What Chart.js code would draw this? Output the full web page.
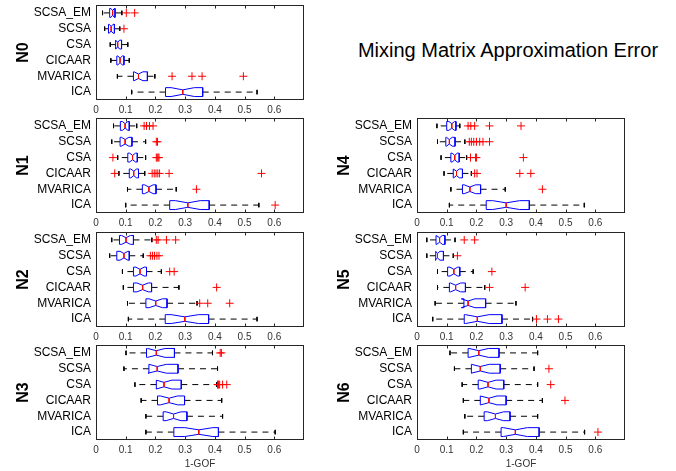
<!DOCTYPE html>
<html>
<head>
<meta charset="utf-8">
<script src="https://cdn.jsdelivr.net/npm/chart.js@4.4.1/dist/chart.umd.min.js"></script>
<style>
  html, body { margin: 0; padding: 0; background: #fff; }
  #fig { position: relative; width: 676px; height: 471px; overflow: hidden; background: #fff; }
  .panel { position: absolute; }
  #title {
    position: absolute; left: 508px; top: 50px; transform: translate(-50%, -50%);
    font: 20px "Liberation Sans", Arial, Helvetica, sans-serif; white-space: nowrap; color: #000;
  }
</style>
</head>
<body>
<div id="fig">
  <div id="title">Mixing Matrix Approximation Error</div>
</div>
<script>
// categories and panels
const methods = ["SCSA_EM", "SCSA", "CSA", "CICAAR", "MVARICA", "ICA"];
const panels = ["N0", "N1", "N2", "N3", "N4", "N5", "N6"];
const xTickValues = [0, 0.1, 0.2, 0.3, 0.4, 0.5, 0.6];
const xMax = 0.7;
const sampleSize = 25; // used for the notch width, as matlab boxplot does

// box statistics, one row per panel, one value per method
const whiskLo = [
  [0.022, 0.029, 0.048, 0.050, 0.072, 0.120],
  [0.059, 0.053, 0.073, 0.077, 0.106, 0.100],
  [0.053, 0.046, 0.089, 0.092, 0.106, 0.109],
  [0.101, 0.094, 0.131, 0.152, 0.168, 0.168],
  [0.067, 0.069, 0.081, 0.091, 0.114, 0.109],
  [0.033, 0.033, 0.069, 0.069, 0.061, 0.053],
  [0.111, 0.126, 0.152, 0.156, 0.161, 0.156]
];
const q1 = [
  [0.046, 0.042, 0.066, 0.070, 0.126, 0.234],
  [0.082, 0.081, 0.107, 0.112, 0.156, 0.248],
  [0.079, 0.070, 0.126, 0.126, 0.168, 0.233],
  [0.170, 0.178, 0.203, 0.207, 0.226, 0.262],
  [0.100, 0.097, 0.114, 0.122, 0.153, 0.233],
  [0.064, 0.063, 0.103, 0.109, 0.158, 0.159],
  [0.172, 0.183, 0.206, 0.213, 0.226, 0.283]
];
const median = [
  [0.056, 0.051, 0.073, 0.081, 0.143, 0.292],
  [0.098, 0.098, 0.123, 0.127, 0.178, 0.309],
  [0.101, 0.094, 0.148, 0.157, 0.201, 0.299],
  [0.203, 0.206, 0.229, 0.246, 0.261, 0.346],
  [0.117, 0.109, 0.127, 0.133, 0.178, 0.300],
  [0.076, 0.069, 0.124, 0.130, 0.172, 0.203],
  [0.208, 0.213, 0.239, 0.242, 0.264, 0.331]
];
const q3 = [
  [0.064, 0.062, 0.086, 0.094, 0.173, 0.359],
  [0.112, 0.121, 0.139, 0.143, 0.202, 0.381],
  [0.126, 0.112, 0.170, 0.187, 0.239, 0.379],
  [0.264, 0.276, 0.287, 0.298, 0.306, 0.412],
  [0.131, 0.128, 0.142, 0.153, 0.214, 0.378],
  [0.094, 0.089, 0.144, 0.163, 0.231, 0.286],
  [0.276, 0.280, 0.292, 0.300, 0.313, 0.411]
];
const whiskHi = [
  [0.087, 0.080, 0.107, 0.112, 0.198, 0.542],
  [0.137, 0.167, 0.167, 0.164, 0.270, 0.548],
  [0.188, 0.159, 0.220, 0.279, 0.340, 0.542],
  [0.392, 0.409, 0.406, 0.423, 0.426, 0.603],
  [0.144, 0.161, 0.167, 0.183, 0.297, 0.563],
  [0.128, 0.122, 0.189, 0.228, 0.333, 0.389],
  [0.406, 0.394, 0.406, 0.422, 0.406, 0.564]
];
const outliers = [
  [[0.102, 0.130], [0.094], [], [], [0.256, 0.323, 0.357, 0.496], []],
  [[0.162, 0.170, 0.180, 0.192], [0.203, 0.207], [0.057, 0.203, 0.206, 0.209, 0.212],
   [0.063, 0.189, 0.196, 0.202, 0.208, 0.214, 0.246, 0.557], [0.338], [0.603]],
  [[0.203, 0.209, 0.237, 0.268], [0.183, 0.190, 0.197, 0.205, 0.212], [0.248, 0.263], [0.406],
   [0.349, 0.376, 0.450], []],
  [[0.418, 0.422], [], [0.409, 0.412, 0.416, 0.426, 0.440], [], [], []],
  [[0.172, 0.181, 0.194, 0.244, 0.350], [0.176, 0.183, 0.191, 0.200, 0.211, 0.222, 0.244],
   [0.180, 0.197, 0.200, 0.358], [0.194, 0.202, 0.346, 0.383], [0.422], []],
  [[0.159, 0.194], [0.136], [0.252], [0.244, 0.364], [], [0.402, 0.439, 0.476]],
  [[], [0.444], [0.450], [0.498], [], [0.609]]
];

// layout (pixels)
const colLeft = [96, 417];
const rowTop = [4, 117, 231, 344];
const plotW = 209, plotH = 96, axisW = 96, padTop = 4, padRight = 4;
const boxH = 0.28, notchDepth = 0.5, capH = 0.14;

Chart.defaults.font.family = '"Liberation Sans", Arial, Helvetica, sans-serif';

const GAP = { x: null, y: null };

function boxOutline(p) {
  const pts = [];
  methods.forEach((m, i) => {
    const y = i + 1, a = q1[p][i], b = q3[p][i], md = median[p][i];
    const n = 1.57 * (b - a) / Math.sqrt(sampleSize);
    pts.push(
      { x: a, y: y - boxH }, { x: md - n, y: y - boxH }, { x: md, y: y - boxH * notchDepth },
      { x: md + n, y: y - boxH }, { x: b, y: y - boxH }, { x: b, y: y + boxH },
      { x: md + n, y: y + boxH }, { x: md, y: y + boxH * notchDepth }, { x: md - n, y: y + boxH },
      { x: a, y: y + boxH }, { x: a, y: y - boxH }, GAP
    );
  });
  return pts;
}

function medianLines(p) {
  const pts = [];
  methods.forEach((m, i) => {
    const y = i + 1, md = median[p][i];
    pts.push({ x: md, y: y - boxH * notchDepth }, { x: md, y: y + boxH * notchDepth }, GAP);
  });
  return pts;
}

function whiskerLines(p) {
  const pts = [];
  methods.forEach((m, i) => {
    const y = i + 1;
    pts.push({ x: q1[p][i], y }, { x: whiskLo[p][i], y }, GAP);
    pts.push({ x: q3[p][i], y }, { x: whiskHi[p][i], y }, GAP);
  });
  return pts;
}

function capLines(p) {
  const pts = [];
  methods.forEach((m, i) => {
    const y = i + 1;
    [whiskLo[p][i], whiskHi[p][i]].forEach(v => {
      pts.push({ x: v, y: y - capH }, { x: v, y: y + capH }, GAP);
    });
  });
  return pts;
}

function outlierPoints(p) {
  const pts = [];
  methods.forEach((m, i) => {
    outliers[p][i].forEach(v => pts.push({ x: v, y: i + 1 }));
  });
  return pts;
}

// full box round the axes plus inward x ticks at top and bottom
const framePlugin = {
  id: "frame",
  afterDatasetsDraw(chart) {
    const { ctx, chartArea: a, scales: { x } } = chart;
    const L = Math.round(a.left) + 0.5, R = Math.round(a.right) - 0.5;
    const T = Math.round(a.top) + 0.5, B = Math.round(a.bottom) - 0.5;
    ctx.save();
    ctx.strokeStyle = "#262626";
    ctx.lineWidth = 1;
    ctx.strokeRect(L, T, R - L, B - T);
    ctx.beginPath();
    x.ticks.forEach(t => {
      const px = Math.round(x.getPixelForValue(t.value)) + 0.5;
      if (px <= L + 1 || px >= R - 1) return;
      ctx.moveTo(px, T); ctx.lineTo(px, T + 3);
      ctx.moveTo(px, B); ctx.lineTo(px, B - 3);
    });
    ctx.stroke();
    ctx.restore();
  }
};

const fig = document.getElementById("fig");

panels.forEach((name, p) => {
  const col = p < 4 ? 0 : 1;
  const row = p < 4 ? p : p - 3;
  const last = row === 3;
  const left = colLeft[col] - axisW;
  const top = rowTop[row] - padTop;
  const w = axisW + plotW + padRight;
  const h = last ? 471 - top : padTop + plotH + 18;

  const cv = document.createElement("canvas");
  cv.className = "panel";
  cv.width = w;
  cv.height = h;
  cv.style.left = left + "px";
  cv.style.top = top + "px";
  fig.appendChild(cv);

  new Chart(cv, {
    type: "scatter",
    data: {
      datasets: [
        { data: outlierPoints(p), showLine: false, pointStyle: "cross", pointRadius: 4,
          borderColor: "#ff0000", backgroundColor: "#ff0000", borderWidth: 1 },
        { data: medianLines(p), showLine: true, borderColor: "#ff0000", borderWidth: 1, pointRadius: 0 },
        { data: boxOutline(p), showLine: true, borderColor: "#0000ff", borderWidth: 1, pointRadius: 0 },
        { data: capLines(p), showLine: true, borderColor: "#000000", borderWidth: 1, pointRadius: 0 },
        { data: whiskerLines(p), showLine: true, borderColor: "#000000", borderWidth: 1, pointRadius: 0,
          borderDash: [6, 5] }
      ]
    },
    options: {
      responsive: false,
      animation: false,
      events: [],
      layout: { padding: { left: 0, top: padTop, right: padRight, bottom: 0 } },
      plugins: { legend: { display: false }, tooltip: { enabled: false } },
      scales: {
        x: {
          type: "linear", min: 0, max: xMax,
          grid: { display: false, drawTicks: false }, border: { display: false },
          afterBuildTicks: s => { s.ticks = xTickValues.map(v => ({ value: v })); },
          afterFit: s => { s.height = h - padTop - plotH; s.paddingLeft = 0; s.paddingRight = 0; },
          ticks: { padding: 4, color: "#333", font: { size: 10 }, maxRotation: 0, autoSkip: false,
                   callback: v => String(+v.toFixed(1)) },
          title: { display: last, text: "1-GOF", color: "#333", font: { size: 10 },
                   padding: { top: 0, bottom: 1 } }
        },
        y: {
          type: "linear", reverse: true, min: 0.5, max: 6.5,
          grid: { display: false, drawTicks: false }, border: { display: false },
          afterBuildTicks: s => { s.ticks = methods.map((m, i) => ({ value: i + 1 })); },
          afterFit: s => { s.width = axisW; s.paddingTop = 0; s.paddingBottom = 0; },
          ticks: { padding: 5, color: "#000", font: { size: 12 }, autoSkip: false,
                   callback: v => methods[v - 1] },
          title: { display: true, text: name, color: "#000", font: { size: 16, weight: "bold" },
                   padding: { top: 14, bottom: 0 } }
        }
      }
    },
    plugins: [framePlugin]
  });
});
</script>
</body>
</html>
